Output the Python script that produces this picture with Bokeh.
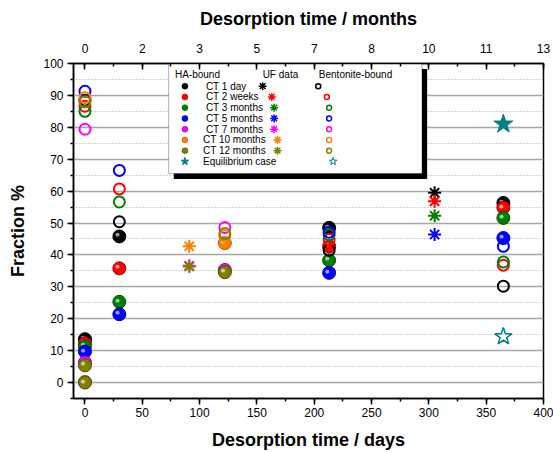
from bokeh.plotting import figure
from bokeh.models import Range1d, LinearAxis, SingleIntervalTicker, BoxAnnotation
from bokeh.core.properties import value
from bokeh.embed import file_html
from bokeh.resources import INLINE

# ---- data -------------------------------------------------------------
series = ["CT 1 day", "CT 2 weeks", "CT 3 months", "CT 5 months",
          "CT 7 months", "CT 10 months", "CT 12 months"]
colors = ["#000000", "#FF0000", "#008000", "#0000FF",
          "#FF00FF", "#FF8000", "#808000"]
edge_colors = ["#000000", "#990000", "#004d00", "#000099",
               "#990099", "#b35900", "#4d4d00"]

# HA-bound fraction (filled spheres)
ha_days = [[0, 30, 213, 365], [0, 30, 213, 365], [0, 30, 213, 365],
           [0, 30, 213, 365], [0, 122], [0, 122], [0, 0, 122]]
ha_vals = [[13.6, 45.8, 48.5, 56.3], [12.3, 35.8, 42.7, 54.8],
           [11.3, 25.3, 38.3, 51.6], [9.7, 21.4, 34.4, 45.3],
           [6.3, 35.3], [0.2, 43.7], [5.4, 0.0, 34.6]]

# UF data (asterisks)
uf_days = [[305], [305], [305], [305], [91], [91], [91]]
uf_vals = [[59.5], [56.8], [52.3], [46.4], [36.6], [42.7], [36.4]]

# Bentonite-bound fraction (open circles)
bb_days = [[0, 30, 213, 365], [0, 30, 213, 365], [0, 30, 213, 365],
           [0, 30, 213, 365], [0, 122], [0, 122], [0, 122]]
bb_vals = [[88.5, 50.4, 41.5, 30.2], [86.6, 60.7, 44.8, 36.8],
           [85.0, 56.6, 46.3, 37.8], [91.3, 66.5, 47.1, 42.7],
           [79.4, 48.6], [89.3, 46.0], [88.0, 46.7]]

# Equilibrium case
eq_day = [365]
eq_ha = [81.0]
eq_bb = [14.4]

teal = "#008080"

day_ticks = [0, 50, 100, 150, 200, 250, 300, 350, 400]
month_labels = ["0", "2", "3", "5", "7", "8", "10", "11", "13"]

FONT = "Liberation Sans"

# ---- figure -----------------------------------------------------------
p = figure(width=553, height=452, output_backend="svg", toolbar_location=None,
           x_range=Range1d(-10, 400), y_range=Range1d(-5, 100),
           min_border_left=73, min_border_right=10,
           min_border_top=63, min_border_bottom=53)
p.background_fill_color = "white"
p.border_fill_color = "white"
p.outline_line_color = "black"
p.outline_line_width = 1.5

xt = SingleIntervalTicker(interval=50, num_minor_ticks=2)
yt = SingleIntervalTicker(interval=10, num_minor_ticks=2)

xa = p.xaxis[0]
xa.ticker = xt
xa.axis_label = "Desorption time / days"
ya = p.yaxis[0]
ya.ticker = yt
ya.axis_label = "Fraction %"

top = LinearAxis(ticker=SingleIntervalTicker(interval=50, num_minor_ticks=2),
                 axis_label="Desorption time / months",
                 major_label_overrides={d: m for d, m in zip(day_ticks, month_labels)})
p.add_layout(top, "above")

for ax in (xa, ya, top):
    ax.axis_line_color = "black"
    ax.axis_line_width = 1.5
    ax.major_tick_line_color = "black"
    ax.major_tick_line_width = 1.5
    ax.minor_tick_line_color = "black"
    ax.minor_tick_line_width = 1.5
    ax.major_label_text_font = FONT
    ax.major_label_text_font_size = "12px"
    ax.major_label_text_color = "black"
    ax.axis_label_text_font = FONT
    ax.axis_label_text_font_style = "bold"
    ax.axis_label_text_font_size = "18px"
    ax.axis_label_text_color = "black"

xa.major_tick_out = 6
xa.major_tick_in = 0
xa.minor_tick_out = 3
xa.minor_tick_in = 0
xa.major_label_standoff = 3
xa.axis_label_standoff = 10

ya.major_tick_out = 6
ya.major_tick_in = 0
ya.minor_tick_out = 3
ya.minor_tick_in = 0
ya.major_label_standoff = 4
ya.axis_label_standoff = 12

top.major_tick_out = 0
top.major_tick_in = 6
top.minor_tick_out = 0
top.minor_tick_in = 3
top.major_label_standoff = 11
top.axis_label_standoff = 12

p.xgrid.visible = False
p.ygrid.ticker = yt
p.ygrid.grid_line_color = "#a6a6a6"
p.ygrid.grid_line_width = 1.3
p.ygrid.minor_grid_line_color = "#a6a6a6"
p.ygrid.minor_grid_line_dash = "1 2"
p.ygrid.minor_grid_line_width = 1


def ball(xs, ys, color, edge, size, hl_size):
    """Filled marker with a small specular highlight, for a shaded-ball look."""
    p.scatter(xs, ys, marker="circle", size=size,
              fill_color=color, line_color=edge, line_width=1)
    p.text(xs, ys, text=["\u25cf"] * len(xs), text_font=value("DejaVu Sans"),
           text_font_size=hl_size, text_color="white", text_alpha=0.65,
           text_align="center", text_baseline="middle",
           x_offset=-2, y_offset=-2)


# ---- data marks ---------------------------------------------------------
for i in range(len(series)):
    ball(ha_days[i], ha_vals[i], colors[i], edge_colors[i], 13, "5px")
for i in range(len(series)):
    p.scatter(bb_days[i], bb_vals[i], marker="circle", size=11,
              fill_color=None, line_color=colors[i], line_width=2)
for i in range(len(series)):
    p.scatter(uf_days[i], uf_vals[i], marker="asterisk", size=13,
              line_color=colors[i], line_width=2)

p.scatter(eq_day, eq_ha, marker="star", size=20, fill_color=teal, line_color=teal)
p.scatter(eq_day, eq_bb, marker="star", size=18, fill_color=None,
          line_color=teal, line_width=1.5)

# ---- legend (drawn in data space) ---------------------------------------
leg_left, leg_right, leg_bottom, leg_top = 73, 294, 65.5, 100
p.add_layout(BoxAnnotation(left=leg_left + 4.5, right=leg_right + 4.5,
                           bottom=leg_bottom - 1.7, top=leg_top - 1.7,
                           fill_color="black", fill_alpha=1, line_color=None,
                           level="underlay"))
p.add_layout(BoxAnnotation(left=leg_left, right=leg_right,
                           bottom=leg_bottom, top=leg_top,
                           fill_color="white", fill_alpha=1, line_color="black",
                           line_width=1, level="underlay"))

row_y0 = 92.9
row_step = 3.37
rows_y = [row_y0 - k * row_step for k in range(8)]
header_y = 96.6

p.text([78.5, 155, 204], [header_y] * 3, text=["HA-bound", "UF data", "Bentonite-bound"],
       text_font=value(FONT), text_font_size="10px", text_baseline="middle",
       text_color="black")

label_x = [105.5] * 5 + [103] * 3
p.text(label_x, rows_y, text=series + ["Equilibrium case"],
       text_font=value(FONT), text_font_size="10px", text_baseline="middle",
       text_color="black")

uf_leg_x = [155, 163, 165, 165, 165, 168, 168]
bb_leg_x = [203.5, 211, 213, 213, 213, 213, 213]
for i in range(len(series)):
    p.scatter([87.2], [rows_y[i]], marker="circle", size=6,
              fill_color=colors[i], line_color=edge_colors[i], line_width=0.5)
    p.scatter([uf_leg_x[i]], [rows_y[i]], marker="asterisk", size=8,
              line_color=colors[i], line_width=1.5)
    p.scatter([bb_leg_x[i]], [rows_y[i]], marker="circle", size=5,
              fill_color=None, line_color=colors[i], line_width=1.5)
p.scatter([87.2], [rows_y[7]], marker="star", size=8, fill_color=teal, line_color=teal)
p.scatter([216.5], [rows_y[7]], marker="star", size=8, fill_color=None,
          line_color=teal, line_width=1)

open("out.html", "w").write(file_html(p, INLINE))
